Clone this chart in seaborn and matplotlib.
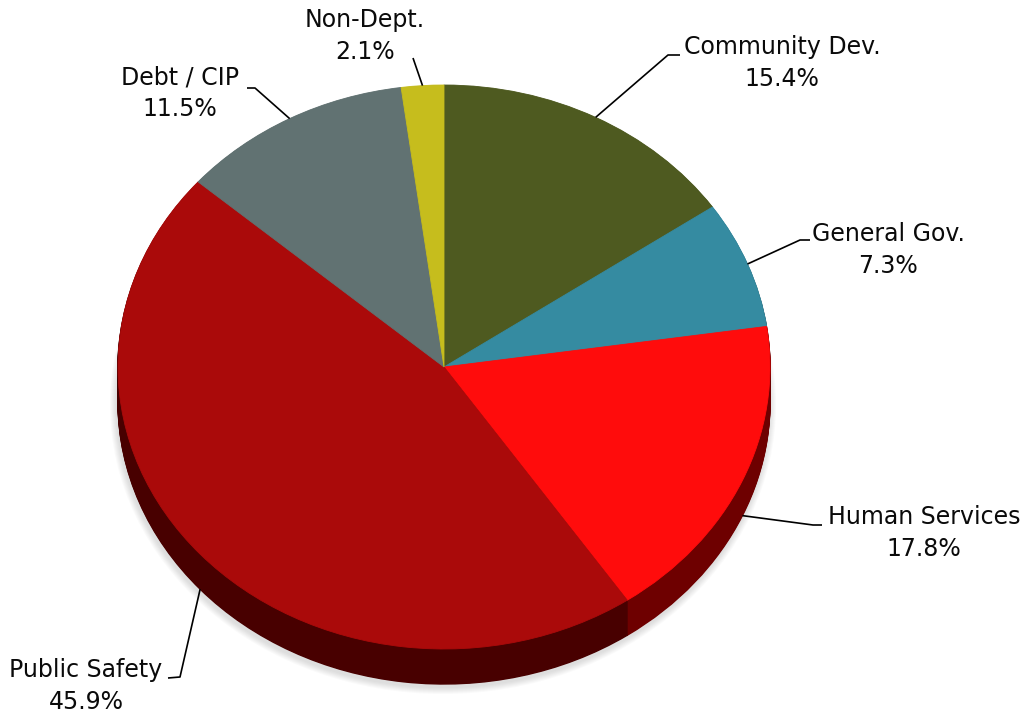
import numpy as np
import matplotlib
matplotlib.use("Agg")
import matplotlib.pyplot as plt
from matplotlib.patches import Ellipse
import seaborn as sns

# Budget share by department (percent)
categories = ["Community Dev.", "General Gov.", "Human Services",
              "Public Safety", "Debt / CIP", "Non-Dept."]
shares = [15.4, 7.3, 17.8, 45.9, 11.5, 2.1]
top_colors = ["#4e5a20", "#358ba1", "#ff0c0c", "#aa0a0a", "#617272", "#c6bd1d"]
side_colors = ["#2c3312", "#1d4e5a", "#6e0000", "#480000", "#374141", "#6f6a10"]

# Label placement (pixel positions on the canvas)
label_pos = [(782, 63), (888, 250), (924, 533), (86, 686), (180, 93), (365, 36)]
leader_elbow = [(668, 55), (800, 240), (813, 525), (180, 677), (255, 88), (413, 58)]
leader_end = [(680, 55), (810, 240), (822, 525), (168, 678), (247, 88), (413, 58)]

W, H = 1025, 712
CX, CY = 444, 367      # centre of the pie top, px
RX, RY = 326, 282      # ellipse half-axes, px
DEPTH = 35             # thickness of the pie, px


def to_data(px, py):
    return (px - CX) / RX, (CY - py) / RY


def draw_pie(ax, colors, center, lw):
    wedges, _ = ax.pie(shares, colors=colors, startangle=90, counterclock=False,
                       center=center, radius=1, wedgeprops=dict(linewidth=lw))
    for w, c in zip(wedges, colors):
        w.set_edgecolor(c)
    return wedges


sns.set_theme(style="white")
plt.rcParams["font.family"] = ["DejaVu Sans"]

fig = plt.figure(figsize=(W / 100, H / 100), dpi=100)
ax = fig.add_axes([0, 0, 1, 1])

# soft drop shadow under the disc
for e in range(1, 8):
    ax.add_patch(Ellipse((-1 / RX, -(DEPTH + 3) / RY),
                         2 * (RX + e) / RX, 2 * (RY + e) / RY,
                         facecolor="#808080", edgecolor="none", alpha=0.04, zorder=0))

# side wall: stacked darker copies of the pie
for k in range(DEPTH, 0, -1):
    draw_pie(ax, side_colors, (0, -k / RY), 1.0)

# top surface
draw_pie(ax, top_colors, (0, 0), 0.6)

# labels with leader lines
cum = np.cumsum([0] + shares[:-1])
for i, (cat, s) in enumerate(zip(categories, shares)):
    theta = np.deg2rad(360 * (cum[i] + s / 2) / 100)
    ax_x, ax_y = np.sin(theta), np.cos(theta)
    if ax_y < 0:
        ax_y -= DEPTH / RY
    ex, ey = to_data(*leader_elbow[i])
    tx, ty = to_data(*leader_end[i])
    ax.plot([ax_x, ex, tx], [ax_y, ey, ty], color="black", lw=1.2,
            solid_capstyle="butt", zorder=5)
    lx, ly = to_data(*label_pos[i])
    ax.text(lx, ly, f"{cat}\n{s:.1f}%", ha="center", va="center",
            fontsize=17, linespacing=1.4, color="#0a0a0a", zorder=6)

ax.set_xlim(-CX / RX, (W - CX) / RX)
ax.set_ylim((CY - H) / RY, CY / RY)
ax.set_aspect("auto")
ax.axis("off")

fig.savefig("out.png", dpi=100, facecolor="white")
